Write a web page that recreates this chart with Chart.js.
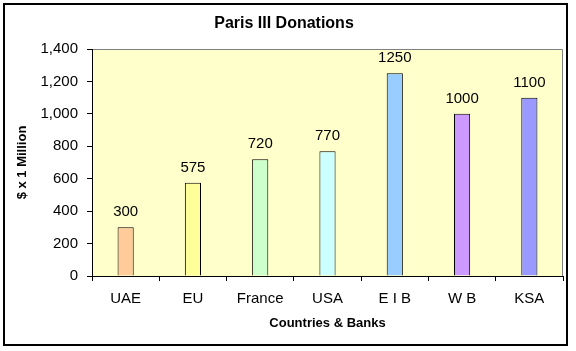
<!DOCTYPE html>
<html>
<head>
<meta charset="utf-8">
<script src="https://cdn.jsdelivr.net/npm/chart.js@4/dist/chart.umd.min.js"></script>
<style>
  html, body { margin: 0; padding: 0; background: #fff; }
  #wrap { width: 576px; height: 351px; position: relative; }
</style>
</head>
<body>
<div id="wrap"><canvas id="c" width="576" height="351"></canvas></div>
<script>
const categories = ["UAE", "EU", "France", "USA", "E I B", "W B", "KSA"];
const donations = [300, 575, 720, 770, 1250, 1000, 1100];
const barColors = ["#FFCC99", "#FFFF99", "#CCFFCC", "#CCFFFF", "#99CCFF", "#CC99FF", "#9999FF"];
const chartTitle = "Paris III Donations";
const xTitle = "Countries & Banks";
const yTitle = "$ x 1 Million";

const FONT = "'Liberation Sans', Arial, sans-serif";

const framePlugin = {
  id: 'frame',
  beforeDraw(chart) {
    const ctx = chart.ctx;
    const a = chart.chartArea;
    ctx.save();
    ctx.fillStyle = '#FFFFFF';
    ctx.fillRect(0, 0, chart.width, chart.height);
    ctx.fillStyle = '#FFFFCC';
    ctx.fillRect(a.left, a.top, a.right - a.left, a.bottom - a.top);
    ctx.strokeStyle = '#808080';
    ctx.lineWidth = 1;
    ctx.beginPath();
    ctx.moveTo(a.left, a.top + 0.5);
    ctx.lineTo(a.right - 0.5, a.top + 0.5);
    ctx.lineTo(a.right - 0.5, a.bottom);
    ctx.stroke();
    ctx.restore();
  },
  afterDraw(chart) {
    const ctx = chart.ctx;
    ctx.save();
    ctx.strokeStyle = '#000';
    ctx.lineWidth = 2;
    ctx.strokeRect(4, 4, 563, 341);
    ctx.restore();
  }
};

const valueLabels = {
  id: 'valueLabels',
  afterDatasetsDraw(chart) {
    const ctx = chart.ctx;
    const meta = chart.getDatasetMeta(0);
    const data = chart.data.datasets[0].data;
    ctx.save();
    ctx.font = '15px ' + FONT;
    ctx.fillStyle = '#000';
    ctx.textAlign = 'center';
    ctx.textBaseline = 'alphabetic';
    meta.data.forEach((bar, i) => {
      ctx.fillText(String(data[i]), bar.x, bar.y - 11);
    });
    ctx.restore();
  }
};

new Chart(document.getElementById('c'), {
  type: 'bar',
  data: {
    labels: categories,
    datasets: [{
      data: donations,
      backgroundColor: barColors,
      borderColor: '#000000',
      borderWidth: 1,
      categoryPercentage: 1.0,
      barPercentage: 0.24
    }]
  },
  options: {
    responsive: false,
    animation: false,
    devicePixelRatio: 1,
    layout: { padding: { left: 5, top: 5, right: 13, bottom: 6 } },
    plugins: {
      legend: { display: false },
      tooltip: { enabled: false },
      title: {
        display: true,
        text: chartTitle,
        color: '#000',
        font: { family: FONT, size: 16, weight: 'bold', lineHeight: 1.2 },
        padding: { top: 9.4, bottom: 15.4 }
      }
    },
    scales: {
      x: {
        offset: true,
        grid: { offset: true, drawOnChartArea: false, drawTicks: true, tickLength: 5, color: '#000' },
        border: { color: '#000', width: 1 },
        ticks: { color: '#000', padding: 9, font: { family: FONT, size: 15 }, maxRotation: 0, autoSkip: false },
        title: {
          display: true, text: xTitle, color: '#000',
          font: { family: FONT, size: 13, weight: 'bold', lineHeight: 1.2 },
          padding: { top: 0, bottom: 14.2 }
        },
        afterFit(scale) { scale.height = 69; }
      },
      y: {
        min: 0, max: 1400,
        ticks: {
          stepSize: 200, color: '#000', padding: 9,
          font: { family: FONT, size: 15 },
          callback: (v) => v.toLocaleString('en-US')
        },
        grid: { drawOnChartArea: false, drawTicks: true, tickLength: 5, color: '#000' },
        border: { color: '#000', width: 1 },
        title: {
          display: true, text: yTitle, color: '#000',
          font: { family: FONT, size: 13, weight: 'bold', lineHeight: 1.2 },
          padding: { top: 9.2, bottom: 0 }
        },
        afterFit(scale) { scale.width = 87; }
      }
    }
  },
  plugins: [framePlugin, valueLabels]
});
</script>
</body>
</html>
